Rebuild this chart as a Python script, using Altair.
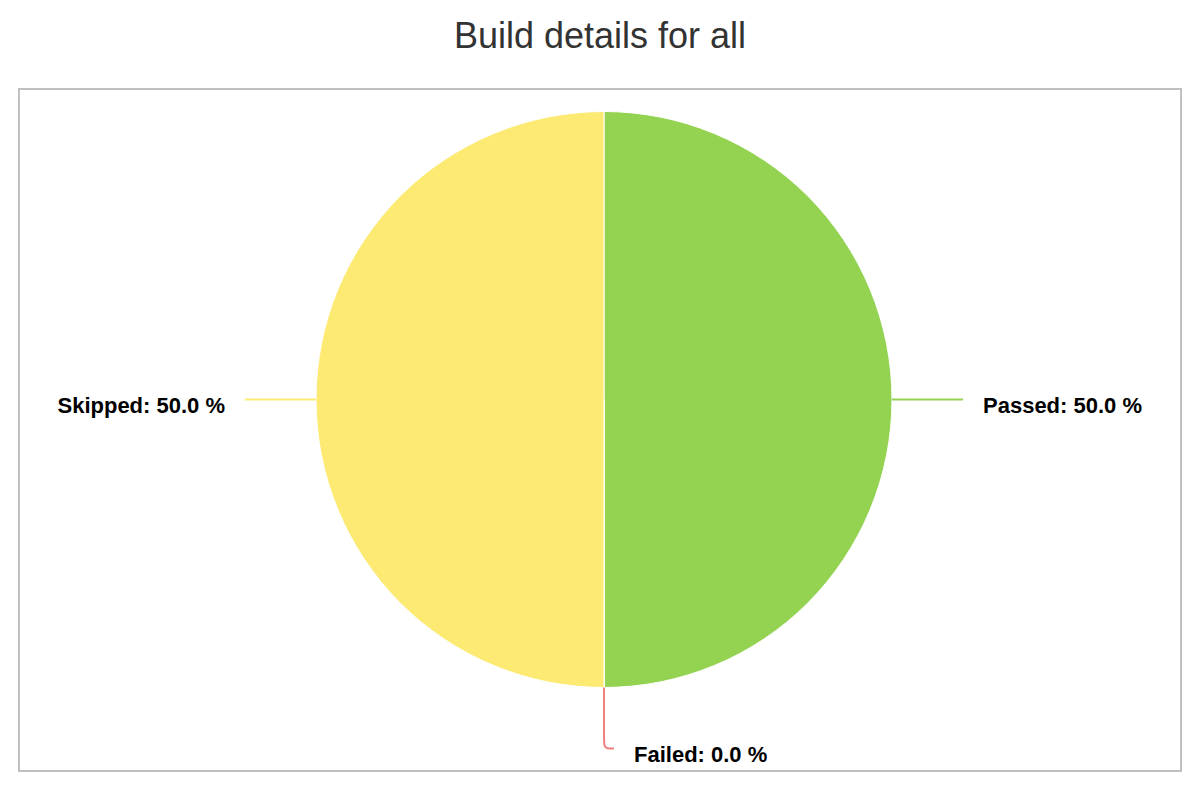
import altair as alt
import pandas as pd

# ---- data ----
categories = ["Passed", "Failed", "Skipped"]
values = [1, 0, 1]
colors = ["#94d352", "#f08080", "#fcea72"]
title_text = "Build details for all"

df = pd.DataFrame({
    "category": categories,
    "value": values,
    "idx": list(range(len(categories))),
})
title_df = pd.DataFrame({"t": [title_text]})

# ---- layout ----
W, H = 1162, 682          # framed plot area
CX, CY, R = 585, 310.5, 288
RAD_OUT = 61              # radial part of the connector
HOR = 10                  # horizontal part of the connector
GAP = 20                  # connector end -> label
FONT = "Liberation Sans"

color_scale = alt.Scale(domain=categories, range=colors)

pie = alt.Chart(df).mark_arc(outerRadius=R, stroke="white", strokeWidth=1).encode(
    theta=alt.Theta("value:Q", stack=True),
    order=alt.Order("idx:Q"),
    color=alt.Color("category:N", scale=color_scale, legend=None),
    x=alt.value(CX),
    y=alt.value(CY),
)

geo = alt.Chart(df).transform_joinaggregate(
    total="sum(value)"
).transform_window(
    cum="sum(value)", sort=[alt.SortField("idx")], frame=[None, 0]
).transform_calculate(
    mid="((datum.cum - datum.value / 2) / datum.total) * 2 * PI",
).transform_calculate(
    side="sin(datum.mid) > -0.001 ? 1 : -1",
    pct="100 * datum.value / datum.total",
).transform_calculate(
    label="datum.category + ': ' + format(datum.pct, '.1f') + ' %'",
)

conn = geo.transform_calculate(
    step="[0, 1, 2, 3, 4]"
).transform_flatten(["step"]).transform_calculate(
    rr=f"{R} + [0, {RAD_OUT - 12}, {RAD_OUT - 2}, {RAD_OUT}, {RAD_OUT}][datum.step]",
    hh=f"[0, 0, 0, 3, {HOR}][datum.step] * datum.side",
).transform_calculate(
    px=f"{CX} + datum.rr * sin(datum.mid) + datum.hh",
    py=f"{CY} - datum.rr * cos(datum.mid)",
).mark_line(strokeWidth=2, interpolate="basis").encode(
    x=alt.X("px:Q", scale=None, axis=None),
    y=alt.Y("py:Q", scale=None, axis=None),
    color=alt.Color("category:N", scale=color_scale, legend=None),
    detail="category:N",
    order=alt.Order("step:Q"),
)

lab = geo.transform_calculate(
    px=f"{CX} + {R + RAD_OUT} * sin(datum.mid) + datum.side * {HOR + GAP}",
    py=f"{CY} - {R + RAD_OUT} * cos(datum.mid)",
)
text_style = dict(baseline="alphabetic", dy=13, fontSize=22, fontWeight="bold",
                  font=FONT, color="black")
enc = dict(
    x=alt.X("px:Q", scale=None, axis=None),
    y=alt.Y("py:Q", scale=None, axis=None),
    text="label:N",
)
right = lab.transform_filter("datum.side > 0").mark_text(align="left", **text_style).encode(**enc)
left = lab.transform_filter("datum.side < 0").mark_text(align="right", **text_style).encode(**enc)

title = alt.Chart(title_df).mark_text(
    fontSize=36, font=FONT, color="#333333", baseline="alphabetic", align="center"
).encode(x=alt.value(W / 2), y=alt.value(-41), text="t:N")

chart = alt.layer(pie, conn, right, left, title).properties(
    width=W,
    height=H,
    autosize=alt.AutoSizeParams(type="none"),
    padding={"left": 11, "top": 81, "right": 11, "bottom": 21},
    background="white",
).configure_view(stroke="#c0c0c0", strokeWidth=2)

chart.save("out.html", embed_options={"renderer": "svg", "actions": False})
